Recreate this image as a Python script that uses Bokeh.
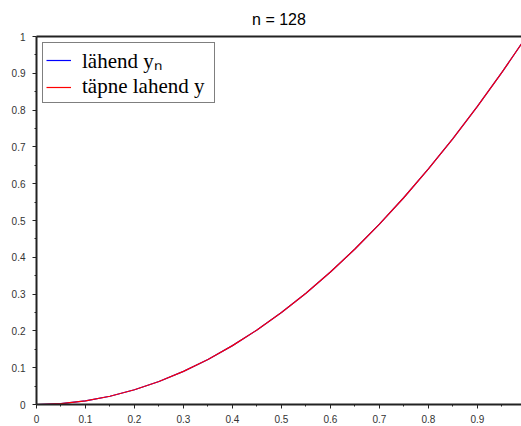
from bokeh.plotting import figure
from bokeh.models import FixedTicker, LinearAxis, Legend, LegendItem
from bokeh.embed import file_html
from bokeh.resources import INLINE

# data
x_vals = [0, 0.05, 0.1, 0.15, 0.2, 0.25, 0.3, 0.35, 0.4, 0.45, 0.5,
          0.55, 0.6, 0.65, 0.7, 0.75, 0.8, 0.85, 0.9, 0.95, 0.992]
y_approx = [0, 0.0025, 0.01, 0.0225, 0.04, 0.0625, 0.09, 0.1225, 0.16, 0.2025, 0.25,
            0.3025, 0.36, 0.4225, 0.49, 0.5625, 0.64, 0.7225, 0.81, 0.9025, 0.984]
y_exact = [0, 0.0025, 0.01, 0.0225, 0.04, 0.0625, 0.09, 0.1225, 0.16, 0.2025, 0.25,
           0.3025, 0.36, 0.4225, 0.49, 0.5625, 0.64, 0.7225, 0.81, 0.9025, 0.984]

x_ticks = [0, 0.1, 0.2, 0.3, 0.4, 0.5, 0.6, 0.7, 0.8, 0.9]
x_tick_labels = ["0", "0.1", "0.2", "0.3", "0.4", "0.5", "0.6", "0.7", "0.8", "0.9"]
x_minor = [0.05, 0.15, 0.25, 0.35, 0.45, 0.55, 0.65, 0.75, 0.85, 0.95]
y_ticks = [0, 0.1, 0.2, 0.3, 0.4, 0.5, 0.6, 0.7, 0.8, 0.9, 1]
y_tick_labels = ["0", "0.1", "0.2", "0.3", "0.4", "0.5", "0.6", "0.7", "0.8", "0.9", "1"]
y_minor = [0.05, 0.15, 0.25, 0.35, 0.45, 0.55, 0.65, 0.75, 0.85, 0.95]

title_text = "n = 128"
label_approx = "lähend yₙ"
label_exact = "täpne lahend y"

p = figure(frame_width=485, frame_height=368,
           x_range=(0, 0.99), y_range=(0, 1),
           output_backend="svg", toolbar_location=None,
           min_border_left=36, min_border_top=36, min_border_right=0,
           min_border_bottom=22, title=title_text)
p.background_fill_color = "white"
p.border_fill_color = "white"
p.outline_line_color = None
p.grid.visible = False

p.title.align = "center"
p.title.vertical_align = "top"
p.title.text_font = "Liberation Sans"
p.title.text_font_size = "16px"
p.title.text_font_style = "normal"
p.title.text_color = "#000000"
p.title.standoff = 13

def style_axis(ax, ticks, minor, labels, standoff):
    ax.ticker = FixedTicker(ticks=ticks, minor_ticks=minor)
    ax.major_label_overrides = {t: l for t, l in zip(ticks, labels)}
    ax.axis_line_color = "#222222"
    ax.axis_line_width = 2
    ax.major_tick_line_color = "#222222"
    ax.minor_tick_line_color = "#222222"
    ax.major_tick_in = 0
    ax.major_tick_out = 4
    ax.minor_tick_in = 0
    ax.minor_tick_out = 2
    ax.major_label_text_font = "Liberation Sans"
    ax.major_label_text_font_size = "10px"
    ax.major_label_text_color = "#333333"
    ax.major_label_standoff = standoff

style_axis(p.xaxis[0], x_ticks, x_minor, x_tick_labels, 6)
style_axis(p.yaxis[0], y_ticks, y_minor, y_tick_labels, 7)

top = LinearAxis(ticker=FixedTicker(ticks=[]), axis_line_color="#222222",
                 axis_line_width=2, major_tick_line_color=None,
                 minor_tick_line_color=None, major_label_text_font_size="0px")
p.add_layout(top, "above")

r1 = p.line(x_vals, y_approx, line_color="#0000ff", line_width=1.2)
r2 = p.line(x_vals, y_exact, line_color="#ff0000", line_width=1.2)

legend = Legend(items=[LegendItem(label=label_approx, renderers=[r1]),
                       LegendItem(label=label_exact, renderers=[r2])],
                location="top_left")
legend.label_text_font = "Liberation Serif"
legend.label_text_font_size = "21px"
legend.label_text_color = "#000000"
legend.glyph_width = 25
legend.glyph_height = 20
legend.label_standoff = 11
legend.label_height = 20
legend.label_width = 129
legend.padding = 3
legend.spacing = 0
legend.margin = 6
legend.border_line_color = "#000000"
legend.border_line_width = 1
legend.background_fill_alpha = 1
p.add_layout(legend)

open("out.html", "w").write(file_html(p, INLINE))
